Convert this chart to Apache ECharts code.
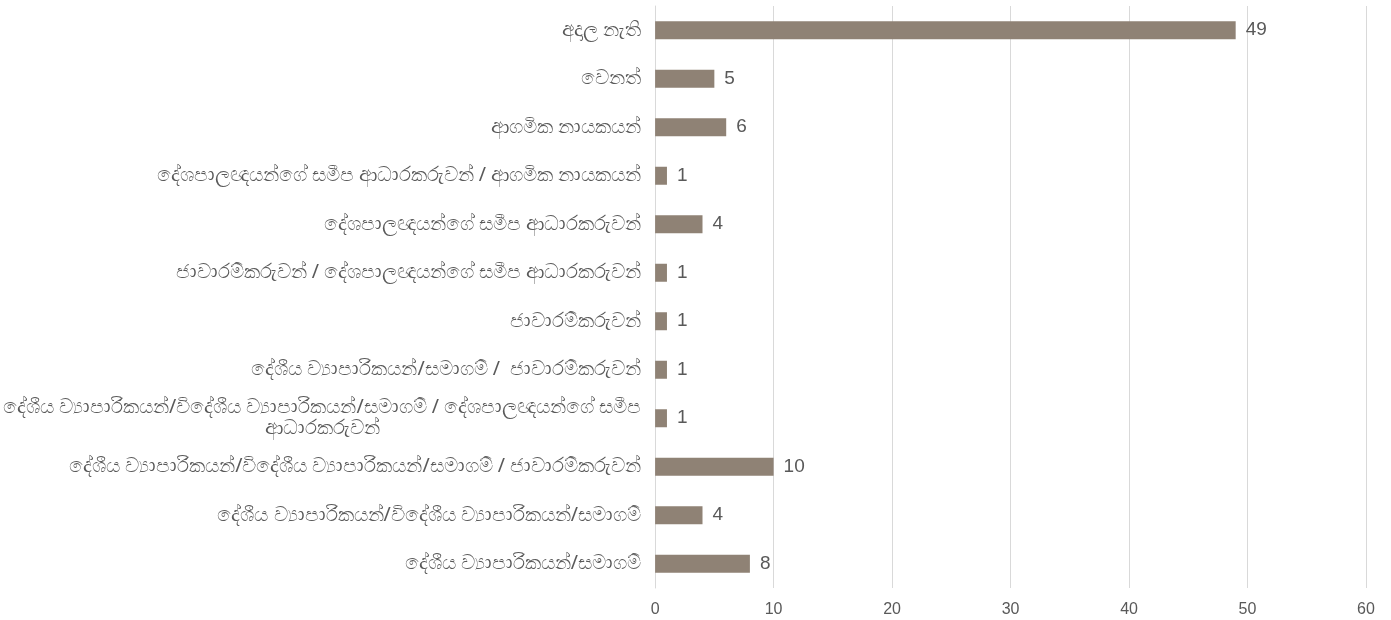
<!DOCTYPE html>
<html>
<head>
<meta charset="utf-8">
<script src="https://cdn.jsdelivr.net/npm/echarts@6/dist/echarts.min.js"></script>
<style>
  html, body { margin: 0; padding: 0; background: #fff; }
  #chartmain { width: 1391px; height: 620px; }
</style>
</head>
<body>
<div id="chartmain"></div>
<script>
// top to bottom, as in the picture
var categories = [
	'අදාල නැති',
	'වෙනත්',
	'ආගමික නායකයන්',
	'දේශපාලඥයන්ගේ සමීප ආධාරකරුවන් / ආගමික නායකයන්',
	'දේශපාලඥයන්ගේ සමීප ආධාරකරුවන්',
	'ජාවාරම්කරුවන් / දේශපාලඥයන්ගේ සමීප ආධාරකරුවන්',
	'ජාවාරම්කරුවන්',
	'දේශීය ව්‍යාපාරිකයන්/සමාගම් /  ජාවාරම්කරුවන්',
	'දේශීය ව්‍යාපාරිකයන්/විදේශීය ව්‍යාපාරිකයන්/සමාගම් / දේශපාලඥයන්ගේ සමීප\nආධාරකරුවන්',
	'දේශීය ව්‍යාපාරිකයන්/විදේශීය ව්‍යාපාරිකයන්/සමාගම් / ජාවාරම්කරුවන්',
	'දේශීය ව්‍යාපාරිකයන්/විදේශීය ව්‍යාපාරිකයන්/සමාගම්',
	'දේශීය ව්‍යාපාරිකයන්/සමාගම්'
];
var counts = [49, 5, 6, 1, 4, 1, 1, 1, 1, 10, 4, 8];
var xTicks = [0, 10, 20, 30, 40, 50, 60];

var numFont = '"Liberation Sans", Arial, sans-serif';
var option = {
	animation : false,
	grid : {
		left : 654,
		right : 25,
		top : 6,
		bottom : 32
	},
	xAxis : {
		type : 'value',
		min : xTicks[0],
		max : xTicks[xTicks.length - 1],
		interval : 10,
		axisLine : { show : false },
		axisTick : { show : false },
		splitLine : { lineStyle : { color : '#d9d9d9', width : 1 } },
		axisLabel : { color : '#595959', fontSize : 16, fontFamily : numFont, margin : 14 }
	},
	yAxis : {
		type : 'category',
		inverse : true,
		data : categories,
		axisLine : { show : true, lineStyle : { color : '#d9d9d9' } },
		axisTick : { show : false },
		axisLabel : {
			margin : 14,
			// wrapped lines are centred under each other, as in the picture
			formatter : function(v) {
				return v.split('\n').map(function(s) { return '{c|' + s + '}'; }).join('\n');
			},
			rich : {
				c : {
					align : 'center',
					color : '#595959',
					fontSize : 19.5,
					lineHeight : 21,
					fontFamily : '"Noto Sans", sans-serif'
				}
			}
		}
	},
	series : [ {
		type : 'bar',
		data : counts,
		barWidth : 18,
		itemStyle : { color : '#8f8275' },
		label : {
			show : true,
			position : 'right',
			distance : 10,
			color : '#595959',
			fontSize : 19,
			fontFamily : numFont
		}
	} ]
};
var myChart = echarts.init(document.getElementById('chartmain'));
myChart.setOption(option);
</script>
</body>
</html>
